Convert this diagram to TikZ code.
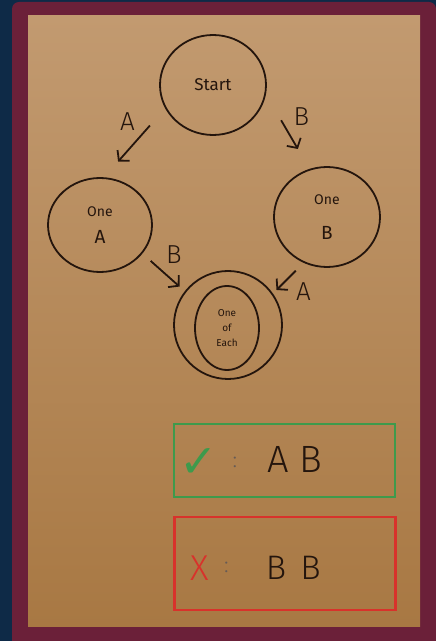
\documentclass[tikz,border=0pt]{standalone}
\usepackage{fontspec}
\setmainfont{Fira Sans Light}
\newfontfamily\penfont{Fira Sans}
\newfontfamily\symbolfont{DejaVu Sans}
\usepackage{xcolor}
\usetikzlibrary{automata, positioning, arrows.meta, shapes.geometric}

\definecolor{wall}{HTML}{0E2A47}
\definecolor{frame}{HTML}{6B2039}
\definecolor{paperhi}{HTML}{C29A70}
\definecolor{paperlo}{HTML}{A87843}
\definecolor{ink}{HTML}{24150D}
\definecolor{okgreen}{HTML}{3E9A4C}
\definecolor{badred}{HTML}{D8322B}

\tikzset{
  blob/.style={state, ellipse, draw=ink, line width=1.8pt, inner sep=0pt, text=ink, align=center, font=\penfont},
  hand/.style={-{Straight Barb[length=7pt,width=16pt]}, color=ink, line width=1.8pt},
  tag/.style={text=ink, font=\fontsize{26}{26}\selectfont, inner sep=5pt},
  answer/.style={draw, line width=2.4pt, minimum width=221pt, inner sep=0pt},
  dots/.style={text=ink!70, font=\fontsize{22}{22}\selectfont},
}

\begin{document}
\begin{tikzpicture}[x=1pt, y=1pt, node distance=2cm, on grid, auto]
        \useasboundingbox (0,0) rectangle (436,641);
        % wall, frame and the sheet
        \fill[wall] (0,0) rectangle (436,641);
        \fill[frame, rounded corners=7pt] (12,-8) rectangle (436,639);
        \shade[top color=paperhi, bottom color=paperlo] (28,14) rectangle (420,625);

        \node[blob, minimum width=106pt, minimum height=100pt] (start) at (213,556) {\fontsize{17}{17}\selectfont Start};
        \node[blob, minimum width=104pt, minimum height=94pt] (oneA) [below left=140pt and 113pt of start]
            {\fontsize{14}{14}\selectfont One\\[13pt]\fontsize{19}{19}\selectfont A};
        \node[blob, minimum width=106pt, minimum height=100pt] (oneB) [below right=132pt and 114pt of start]
            {\fontsize{14}{14}\selectfont One\\[20pt]\fontsize{19}{19}\selectfont B};
        \node[blob, minimum width=64pt, minimum height=84pt] (each) [below right=103pt and 127pt of oneA]
            {\fontsize{10}{12}\selectfont One\\[3pt]of\\[3pt]Each};
        %\node[state, accepting] (each) ...
        \node[blob, minimum size=108pt] (eachring) [above right=3pt and 1pt of each] {};

        \path[hand]
        (start.206) edge [shorten <=23pt, shorten >=21pt] node [tag, pos=.4, swap] {A} (oneA.85)
        (start.350) edge [shorten <=30pt, shorten >=23pt] node [tag, pos=.5] {B} (oneB.110)
        (oneA.326) edge [shorten <=11pt, shorten >=7pt] node [tag, pos=.42] {B} (eachring.142)
        (oneB.243) edge [shorten <=11pt, shorten >=5pt] node [tag, pos=.44] {A} (eachring.35);

        % accepted and rejected words
        \node[answer, draw=okgreen, minimum height=73pt] (okbox) at (284.5,180.5) {};
        \node[text=okgreen, font=\symbolfont\fontsize{46}{46}\selectfont] (okmark) [xshift=26pt, yshift=-3pt] at (okbox.west) {✓};
        \node[dots] (okcolon) [xshift=62pt, yshift=-2pt] at (okbox.west) {:};
        \node[text=ink, font=\fontsize{38}{38}\selectfont] (okword) [xshift=122pt, yshift=1pt] at (okbox.west) {A\hspace{10pt}B};

        \node[answer, draw=badred, minimum height=93pt] (badbox) at (285,77.5) {};
        \node[text=badred, font=\fontsize{36}{36}\selectfont] (badmark) [xshift=26pt, yshift=-5pt] at (badbox.west) {X};
        \node[dots] (badcolon) [xshift=53pt, yshift=-4pt] at (badbox.west) {:};
        \node[text=ink, font=\fontsize{34}{34}\selectfont] (badword) [xshift=120pt, yshift=-4pt] at (badbox.west) {B\hspace{14pt}B};
\end{tikzpicture}
\end{document}
